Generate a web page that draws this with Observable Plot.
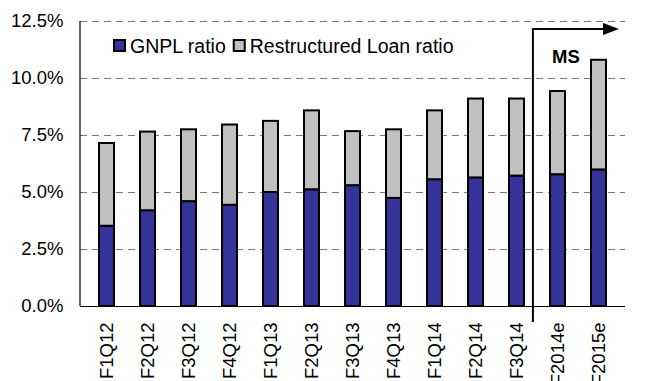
<!DOCTYPE html>
<html>
<head>
<meta charset="utf-8">
<script src="https://cdn.jsdelivr.net/npm/d3@7"></script>
<script src="https://cdn.jsdelivr.net/npm/@observablehq/plot@0.6"></script>
<style>
  html, body { margin: 0; padding: 0; background: #fff; }
  #chart svg { display: block; }
</style>
</head>
<body>
<div id="chart"></div>
<script>
const categories = ["F1Q12","F2Q12","F3Q12","F4Q12","F1Q13","F2Q13","F3Q13","F4Q13","F1Q14","F2Q14","F3Q14","F2014e","F2015e"];
const gnplRatio = [3.52, 4.20, 4.60, 4.44, 5.00, 5.12, 5.30, 4.74, 5.56, 5.64, 5.72, 5.78, 5.99];
const restructuredRatio = [3.63, 3.45, 3.15, 3.52, 3.12, 3.46, 2.37, 3.01, 3.02, 3.46, 3.38, 3.65, 4.81];
const seriesNames = ["GNPL ratio", "Restructured Loan ratio"];
const seriesColors = ["#333399", "#C0C0C0"];
const yTicks = [0, 0.025, 0.05, 0.075, 0.1, 0.125];
const forecastLabel = "MS";
const forecastStart = "F2014e";

const FONT = "Liberation Sans, Arial, Helvetica, sans-serif";
const FS = 18.5;
const LEG_FS = 19.5;

const rows = [];
categories.forEach((c, i) => {
  rows.push({cat: c, series: seriesNames[0], value: gnplRatio[i] / 100});
  rows.push({cat: c, series: seriesNames[1], value: restructuredRatio[i] / 100});
});

const plot = Plot.plot({
  width: 646,
  height: 381,
  marginLeft: 80,
  marginRight: 21,
  marginTop: 21,
  marginBottom: 75,
  style: {fontFamily: FONT, fontSize: FS + "px", color: "#000", background: "#fff"},
  x: {domain: categories, paddingInner: 0.64, paddingOuter: 0.32, label: null},
  y: {domain: [0, 0.125], ticks: yTicks, label: null},
  color: {domain: seriesNames, range: seriesColors},
  marks: [
    Plot.gridY(yTicks.slice(1), {stroke: "#7a7a7a", strokeOpacity: 1, strokeWidth: 1.2, strokeDasharray: "7,5"}),
    Plot.barY(rows, {x: "cat", y: "value", fill: "series", order: seriesNames, stroke: "#000", strokeWidth: 2}),
    Plot.ruleY([0], {stroke: "#000", strokeWidth: 1.2}),
    Plot.axisY(yTicks, {tickSize: 0, tickPadding: 17, tickFormat: d3.format(".1%"), fontSize: FS, fill: "#000"}),
    Plot.axisX({tickSize: 0, tickPadding: 16, tickRotate: -90, fontSize: FS, fill: "#000"})
  ]
});

document.getElementById("chart").appendChild(plot);

const svg = d3.select(plot);
const xs = plot.scale("x");
const ys = plot.scale("y");
const [x0, x1] = xs.range;

// left axis line
svg.append("line")
  .attr("x1", x0).attr("x2", x0).attr("y1", ys.apply(0.125)).attr("y2", ys.apply(0))
  .attr("stroke", "#000").attr("stroke-width", 1.2);

// forecast separator + arrow
const iStart = categories.indexOf(forecastStart);
const step = xs.apply(categories[1]) - xs.apply(categories[0]);
const bw = xs.bandwidth;
const prevCenter = xs.apply(categories[iStart - 1]) + bw / 2;
const sepX = prevCenter + step * 0.4;
const arrowY = ys.apply(0.1215);
const tipX = x1 - 6;
svg.append("path")
  .attr("d", `M${sepX},${ys.apply(0) + 16}V${arrowY}H${tipX - 14}`)
  .attr("fill", "none").attr("stroke", "#000").attr("stroke-width", 2);
svg.append("path")
  .attr("d", `M${tipX - 16},${arrowY - 6}L${tipX},${arrowY}L${tipX - 16},${arrowY + 6}Z`)
  .attr("fill", "#000");
svg.append("text")
  .attr("x", sepX + 30 + 3).attr("y", ys.apply(0.1065))
  .attr("text-anchor", "middle")
  .attr("font-family", FONT).attr("font-size", FS).attr("font-weight", "bold")
  .text(forecastLabel);

// legend
const lg = svg.append("g").attr("font-family", FONT).attr("font-size", LEG_FS).attr("text-anchor", "start");
const legY = 46;
let lx = 113;
seriesNames.forEach((name, i) => {
  lg.append("rect").attr("x", lx + 1).attr("y", legY - 6).attr("width", 11).attr("height", 11)
    .attr("fill", seriesColors[i]).attr("stroke", "#000").attr("stroke-width", 2);
  const t = lg.append("text").attr("x", lx + 17).attr("y", legY).attr("dy", "0.36em")
    .attr("text-anchor", "start").text(name);
  lx = lx + 17 + t.node().getComputedTextLength() + 7;
});
</script>
</body>
</html>
